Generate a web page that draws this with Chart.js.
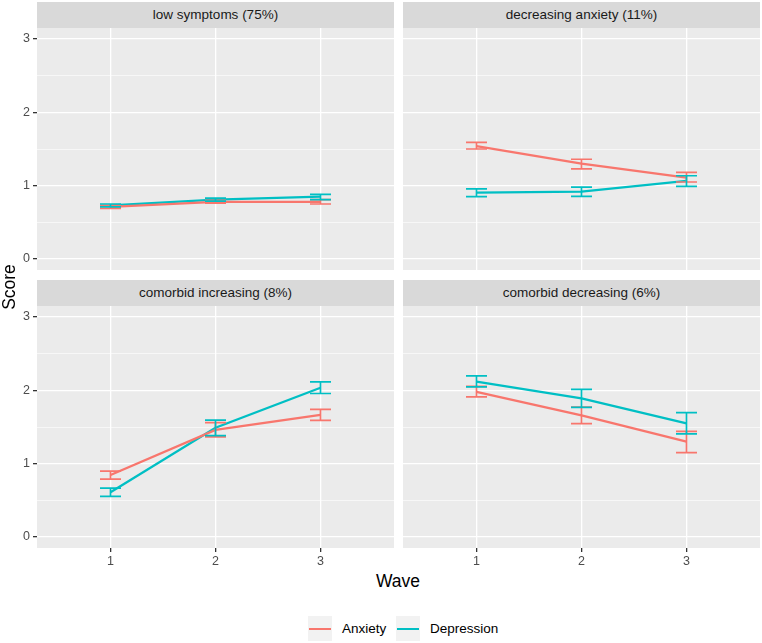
<!DOCTYPE html>
<html><head><meta charset="utf-8">
<script src="https://cdn.jsdelivr.net/npm/chart.js@4"></script>
<style>
html,body{margin:0;padding:0;background:#fff;}
#wrap{position:relative;width:762px;height:643px;font-family:"Liberation Sans",Arial,sans-serif;overflow:hidden;}
canvas{position:absolute;}
.strip{position:absolute;background:#D9D9D9;color:#1A1A1A;font-size:13.5px;text-align:center;height:26px;line-height:26px;}
.title{position:absolute;color:#000;font-size:17.5px;line-height:20px;height:20px;width:80px;text-align:center;}
.leg{position:absolute;top:616px;font-size:13.5px;color:#000;line-height:25px;}
.key{position:absolute;top:616px;width:24px;height:25px;background:#F2F2F2;}
.key i{position:absolute;left:1px;right:1px;top:11.5px;height:2.5px;}
</style></head>
<body>
<div id="wrap"></div>
<script>
// ---- data ----
const waves = [1, 2, 3];
const panelTitles = ["low symptoms (75%)", "decreasing anxiety (11%)", "comorbid increasing (8%)", "comorbid decreasing (6%)"];
const seriesNames = ["Anxiety", "Depression"];
const yTickValues = [0, 0.5, 1, 1.5, 2, 2.5, 3];
const xTickValues = [1, 2, 3];
// per panel, per wave
const anxietyMean  = [[0.71, 0.78, 0.78], [1.54, 1.30, 1.11], [0.845, 1.46, 1.665], [1.98, 1.66, 1.30]];
const anxietyLow   = [[0.69, 0.76, 0.75], [1.50, 1.23, 1.05], [0.79, 1.364, 1.59], [1.912, 1.545, 1.151]];
const anxietyHigh  = [[0.73, 0.80, 0.81], [1.59, 1.36, 1.18], [0.897, 1.559, 1.74], [2.053, 1.772, 1.441]];
const depressionMean = [[0.73, 0.81, 0.85], [0.905, 0.92, 1.065], [0.61, 1.49, 2.035], [2.12, 1.89, 1.55]];
const depressionLow  = [[0.71, 0.79, 0.81], [0.85, 0.855, 0.99], [0.553, 1.382, 1.957], [2.048, 1.767, 1.405]];
const depressionHigh = [[0.75, 0.83, 0.88], [0.955, 0.98, 1.135], [0.666, 1.595, 2.116], [2.197, 2.012, 1.695]];

const colors = ["#F8766D", "#00BFC4"];
const FONT = "'Liberation Sans', Arial, sans-serif";

const wrap = document.getElementById('wrap');

const panelBg = {
  id: 'panelBg',
  beforeDraw(chart) {
    const a = chart.chartArea, c = chart.ctx;
    c.save(); c.fillStyle = '#EBEBEB';
    c.fillRect(a.left, a.top, a.right - a.left, a.bottom - a.top);
    c.restore();
  }
};
const errorBars = {
  id: 'errorBars',
  afterDatasetsDraw(chart) {
    const c = chart.ctx, xs = chart.scales.x, ys = chart.scales.y;
    c.save();
    chart.data.datasets.forEach(ds => {
      c.strokeStyle = ds.borderColor; c.lineWidth = 1.7;
      ds.data.forEach((p, i) => {
        const x = xs.getPixelForValue(p.x);
        const xl = xs.getPixelForValue(p.x - 0.1), xr = xs.getPixelForValue(p.x + 0.1);
        const yl = ys.getPixelForValue(ds.errLow[i]), yh = ys.getPixelForValue(ds.errHigh[i]);
        c.beginPath();
        c.moveTo(xl, yh); c.lineTo(xr, yh);
        c.moveTo(x, yh); c.lineTo(x, yl);
        c.moveTo(xl, yl); c.lineTo(xr, yl);
        c.stroke();
      });
    });
    c.restore();
  }
};

const layout = [
  {left: 0,   top: 28,  w: 394, h: 242, yAxis: true,  xAxis: false},
  {left: 403, top: 28,  w: 357, h: 242, yAxis: false, xAxis: false},
  {left: 0,   top: 306, w: 394, h: 264, yAxis: true,  xAxis: true},
  {left: 403, top: 306, w: 357, h: 264, yAxis: false, xAxis: true}
];

layout.forEach((L, p) => {
  const strip = document.createElement('div');
  strip.className = 'strip';
  const panelLeft = L.yAxis ? L.left + 37 : L.left;
  strip.style.left = panelLeft + 'px';
  strip.style.width = (L.left + L.w - panelLeft) + 'px';
  strip.style.top = (L.top - 26) + 'px';
  strip.textContent = panelTitles[p];
  wrap.appendChild(strip);

  const cv = document.createElement('canvas');
  cv.style.left = L.left + 'px'; cv.style.top = L.top + 'px';
  cv.style.width = L.w + 'px'; cv.style.height = L.h + 'px';
  cv.width = L.w; cv.height = L.h;
  wrap.appendChild(cv);

  const means = [anxietyMean[p], depressionMean[p]];
  const lows = [anxietyLow[p], depressionLow[p]];
  const highs = [anxietyHigh[p], depressionHigh[p]];
  const datasets = seriesNames.map((name, s) => ({
    label: name,
    data: waves.map((w, i) => ({x: w, y: means[s][i]})),
    errLow: lows[s], errHigh: highs[s],
    borderColor: colors[s], backgroundColor: colors[s],
    borderWidth: 2.3, pointRadius: 0, showLine: true, tension: 0
  }));

  new Chart(cv, {
    type: 'scatter',
    data: {datasets},
    options: {
      responsive: false, animation: false, devicePixelRatio: 1,
      layout: {padding: 0},
      plugins: {legend: {display: false}, tooltip: {enabled: false}},
      scales: {
        x: {
          type: 'linear', min: 0.3, max: 3.7,
          afterBuildTicks: sc => { sc.ticks = xTickValues.map(v => ({value: v})); },
          afterFit: sc => { sc.height = L.xAxis ? 22 : 0; sc.paddingLeft = 0; sc.paddingRight = 0; },
          border: {display: false},
          grid: {color: '#FFFFFF', lineWidth: 1.3, drawTicks: L.xAxis, tickLength: 4, tickColor: '#333333', tickWidth: 1.3},
          ticks: {display: L.xAxis, padding: 2, color: '#4D4D4D', font: {family: FONT, size: 12.5}, callback: v => String(v)}
        },
        y: {
          type: 'linear', min: -0.15, max: 3.15,
          afterBuildTicks: sc => { sc.ticks = yTickValues.map(v => ({value: v})); },
          afterFit: sc => { sc.width = L.yAxis ? 37 : 0; sc.paddingTop = 0; sc.paddingBottom = 0; },
          border: {display: false},
          grid: {
            color: '#FFFFFF',
            lineWidth: ctx => Number.isInteger(ctx.tick.value) ? 1.3 : 0.6,
            drawTicks: L.yAxis, tickLength: 4, tickWidth: 1.3,
            tickColor: ctx => Number.isInteger(ctx.tick.value) ? '#333333' : 'rgba(0,0,0,0)'
          },
          ticks: {display: L.yAxis, padding: 3, color: '#4D4D4D', font: {family: FONT, size: 12.5},
            callback: v => Number.isInteger(v) ? String(v) : ''}
        }
      }
    },
    plugins: [panelBg, errorBars]
  });
});

// axis titles
const wave = document.createElement('div');
wave.className = 'title'; wave.textContent = 'Wave';
wave.style.left = (398 - 40) + 'px'; wave.style.top = '571px';
wrap.appendChild(wave);
const score = document.createElement('div');
score.className = 'title'; score.textContent = 'Score';
score.style.left = (9 - 40) + 'px'; score.style.top = (287 - 10) + 'px';
score.style.transform = 'rotate(-90deg)';
wrap.appendChild(score);

// legend
const legendX = [{key: 308, text: 342}, {key: 396, text: 430}];
seriesNames.forEach((name, s) => {
  const k = document.createElement('div');
  k.className = 'key'; k.style.left = legendX[s].key + 'px';
  const i = document.createElement('i'); i.style.background = colors[s];
  k.appendChild(i); wrap.appendChild(k);
  const t = document.createElement('div');
  t.className = 'leg'; t.style.left = legendX[s].text + 'px'; t.textContent = name;
  wrap.appendChild(t);
});
</script>
</body></html>
